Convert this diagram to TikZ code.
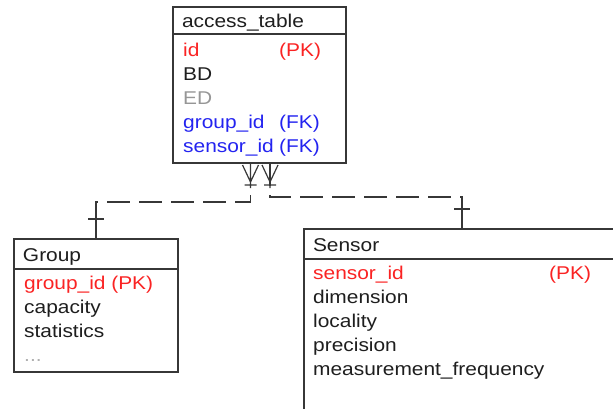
\documentclass[tikz,border=0pt]{standalone}
\usepackage{fontspec}
\setmainfont{Liberation Sans}[FakeStretch=1.13]
\usetikzlibrary{positioning,calc}

\definecolor{boxgray}{RGB}{55,55,55}
\definecolor{txtblack}{RGB}{30,30,30}
\definecolor{pkred}{RGB}{250,35,35}
\definecolor{fkblue}{RGB}{35,35,240}
\definecolor{edgray}{RGB}{150,150,150}
\definecolor{dotgray}{RGB}{175,175,175}

\newcommand{\keycol}[2]{\makebox[#1][l]{#2}}

\tikzset{
  tblhead/.style={draw=boxgray, line width=1.2pt, fill=white, anchor=north west,
    align=left, inner xsep=9pt, inner ysep=0pt, outer sep=0pt, text height=17pt,
    text depth=3pt, text=txtblack, font=\fontsize{18.5pt}{24pt}\selectfont},
  tblbody/.style={draw=boxgray, line width=1.2pt, inner sep=0pt, outer sep=0pt},
  tblrows/.style={anchor=base west, inner sep=0pt, text=txtblack,
    font=\fontsize{18.5pt}{24pt}\selectfont},
  rel/.style={draw=boxgray, line width=1.2pt, dash pattern=on 23pt off 9pt},
  crowfoot/.pic={\draw[boxgray, line width=1.2pt, solid]
    (-8,2) -- (0,19) -- (8,2) (0,0) -- (0,25) (-6,22) -- (6,22);},
  onebar/.pic={\draw[boxgray, line width=1.2pt, solid]
    (0,0) -- (0,-26) (-8,-20) -- (8,-20);}
}

\begin{document}
\begin{tikzpicture}[x=1pt, y=-1pt]
  \useasboundingbox (0,0) rectangle (613,409);
  \clip (0,0) rectangle (613,409);

  % access table
  \node[tblhead, minimum height=27pt, text width=155pt] (acchead) at (173,7) {access\_table};
  \node[tblbody, minimum width=173pt, minimum height=129pt] (accbody) [below=0pt of acchead] {};
  \node[tblrows] (accrows) at (183,57) {%
    \begin{tabular}[t]{@{}l@{}}
      \textcolor{pkred}{\keycol{96pt}{id}(PK)}\\
      BD\\
      \textcolor{edgray}{ED}\\
      \textcolor{fkblue}{\keycol{96pt}{group\_id}(FK)}\\
      \textcolor{fkblue}{\keycol{96pt}{sensor\_id}(FK)}
    \end{tabular}};

  % group table
  \node[tblhead, minimum height=30pt, text width=146pt] (grphead) at (14,239) {Group};
  \node[tblbody, minimum width=164pt, minimum height=103pt] (grpbody) [below=0pt of grphead] {};
  \node[tblrows] (grprows) at (24,289) {%
    \begin{tabular}[t]{@{}l@{}}
      \textcolor{pkred}{group\_id (PK)}\\
      capacity\\
      statistics\\
      \textcolor{dotgray}{...}
    \end{tabular}};

  % sensor table
  \node[tblhead, minimum height=30pt, text width=298pt] (senhead) at (304,229) {Sensor};
  \node[tblbody, minimum width=316pt, minimum height=170pt] (senbody) [below=0pt of senhead] {};
  \node[tblrows] (senrows) at (313,279) {%
    \begin{tabular}[t]{@{}l@{}}
      \textcolor{pkred}{\keycol{236pt}{sensor\_id}(PK)}\\
      dimension\\
      locality\\
      precision\\
      measurement\_frequency
    \end{tabular}};

  % relations
  \coordinate (grpfoot) at ([xshift=-9pt]accbody.south);
  \coordinate (senfoot) at ([xshift=10.5pt]accbody.south);
  \draw[rel] (grpfoot) -- ++(0,39) -| (grphead.north);
  \draw[rel] (senfoot) -- ++(0,34) -| (senhead.north);
  \pic at (grpfoot) {crowfoot};
  \pic at (senfoot) {crowfoot};
  \pic at (grphead.north) {onebar};
  \pic at (senhead.north) {onebar};
\end{tikzpicture}
\end{document}
